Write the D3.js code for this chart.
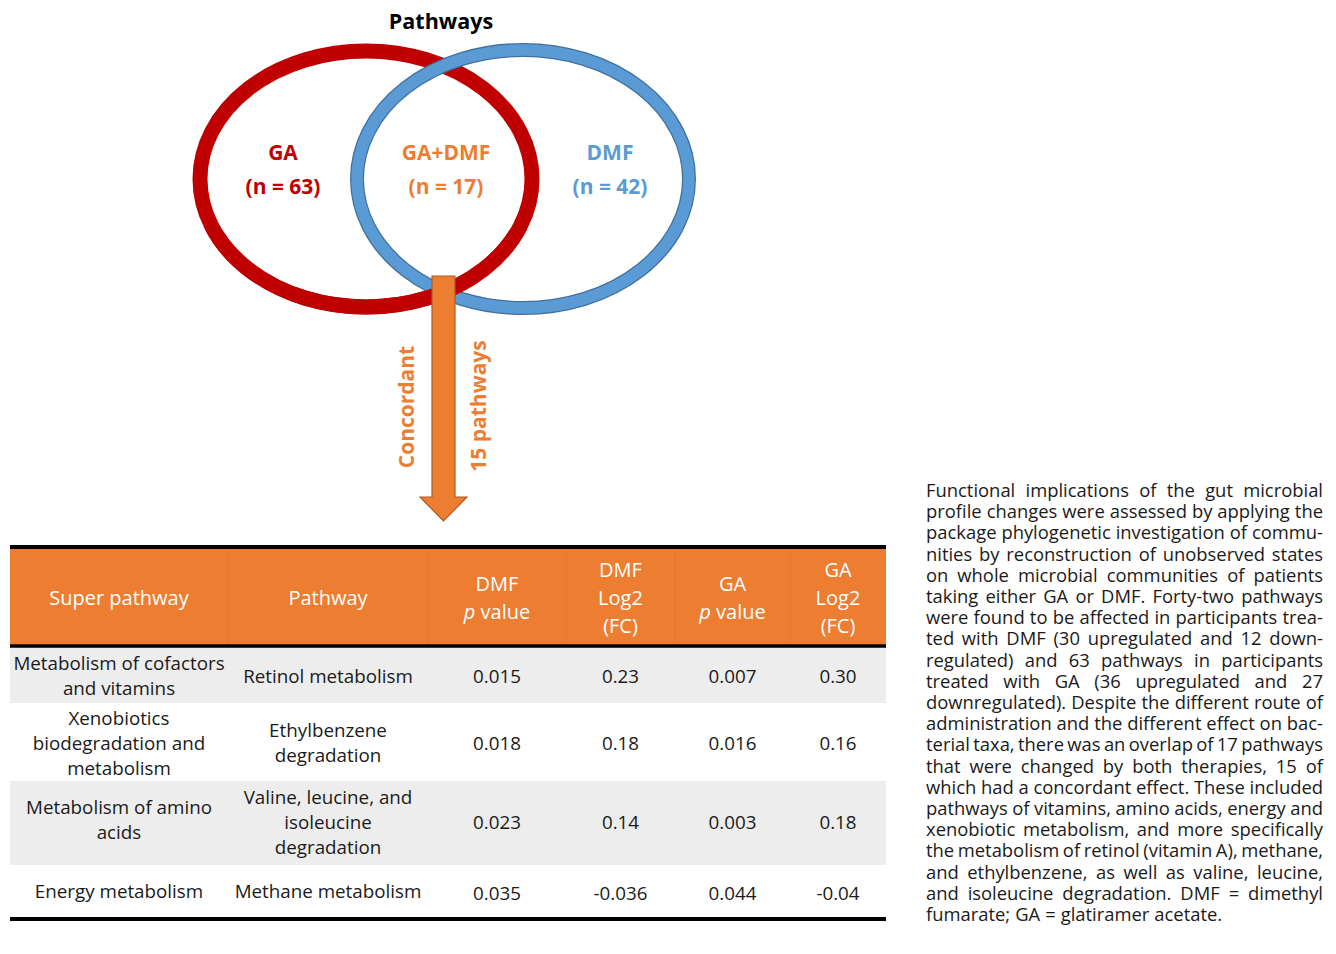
<!DOCTYPE html>
<html>
<head>
<meta charset="utf-8">
<script src="https://cdn.jsdelivr.net/npm/d3@7"></script>
<style>
  body { margin: 0; background: #fff; }
  svg { font-family: "Open Sans", sans-serif; }
</style>
</head>
<body>
<div id="graph"></div>
<script>
// venn sets
var vennNames = ["GA", "GA+DMF", "DMF"];
var vennCounts = [63, 17, 42];
var concordantCount = 15;

// table
var headers = [["Super pathway"], ["Pathway"], ["DMF", "p value"], ["DMF", "Log2", "(FC)"], ["GA", "p value"], ["GA", "Log2", "(FC)"]];
var superPathways = [
  ["Metabolism of cofactors", "and vitamins"],
  ["Xenobiotics", "biodegradation and", "metabolism"],
  ["Metabolism of amino", "acids"],
  ["Energy metabolism"]
];
var pathways = [
  ["Retinol metabolism"],
  ["Ethylbenzene", "degradation"],
  ["Valine, leucine, and", "isoleucine", "degradation"],
  ["Methane metabolism"]
];
var dmfP = ["0.015", "0.018", "0.023", "0.035"];
var dmfLog2 = ["0.23", "0.18", "0.14", "-0.036"];
var gaP = ["0.007", "0.016", "0.003", "0.044"];
var gaLog2 = ["0.30", "0.16", "0.18", "-0.04"];

var captionLines = [
  "Functional implications of the gut microbial",
  "profile changes were assessed by applying the",
  "package phylogenetic investigation of commu-",
  "nities by reconstruction of unobserved states",
  "on whole microbial communities of patients",
  "taking either GA or DMF. Forty-two pathways",
  "were found to be affected in participants trea-",
  "ted with DMF (30 upregulated and 12 down-",
  "regulated) and 63 pathways in participants",
  "treated with GA (36 upregulated and 27",
  "downregulated). Despite the different route of",
  "administration and the different effect on bac-",
  "terial taxa, there was an overlap of 17 pathways",
  "that were changed by both therapies, 15 of",
  "which had a concordant effect. These included",
  "pathways of vitamins, amino acids, energy and",
  "xenobiotic metabolism, and more specifically",
  "the metabolism of retinol (vitamin A), methane,",
  "and ethylbenzene, as well as valine, leucine,",
  "and isoleucine degradation. DMF = dimethyl",
  "fumarate; GA = glatiramer acetate."
];

var red = "#c00000", blue = "#5b9bd5", orange = "#ed7d31";

var svg = d3.select("#graph")
  .append("svg")
    .attr("width", 1336)
    .attr("height", 954);

// title
svg.append("text")
  .attr("x", 441).attr("y", 29)
  .attr("text-anchor", "middle")
  .style("font-weight", "bold").style("font-size", "21.5px")
  .text("Pathways");

// venn ellipses
var venn = svg.append("g");
var ellipseRed = { cx: 366, cy: 179, rx: 166, ry: 128 };
var ellipseBlue = { cx: 523, cy: 179, rx: 166, ry: 129 };

function drawRed(g) {
  g.append("ellipse")
    .attr("cx", ellipseRed.cx).attr("cy", ellipseRed.cy)
    .attr("rx", ellipseRed.rx).attr("ry", ellipseRed.ry)
    .style("fill", "none").style("stroke", red).style("stroke-width", 15);
}
drawRed(venn);
// blue ring with darker outline
venn.append("ellipse")
  .attr("cx", ellipseBlue.cx).attr("cy", ellipseBlue.cy)
  .attr("rx", ellipseBlue.rx).attr("ry", ellipseBlue.ry)
  .style("fill", "none").style("stroke", "#41719c").style("stroke-width", 14);
venn.append("ellipse")
  .attr("cx", ellipseBlue.cx).attr("cy", ellipseBlue.cy)
  .attr("rx", ellipseBlue.rx).attr("ry", ellipseBlue.ry)
  .style("fill", "none").style("stroke", blue).style("stroke-width", 11.5);

// red goes over blue at the bottom crossing
svg.append("clipPath").attr("id", "bottomClip")
  .append("rect").attr("x", 0).attr("y", 230).attr("width", 900).attr("height", 120);
drawRed(venn.append("g").attr("clip-path", "url(#bottomClip)"));

// venn labels
var labelX = [283, 446, 610];
var labelColor = [red, orange, blue];
vennNames.forEach(function(n, i) {
  var t = venn.append("text")
    .attr("x", labelX[i]).attr("text-anchor", "middle")
    .style("font-weight", "bold").style("font-size", "21px")
    .style("fill", labelColor[i]);
  t.append("tspan").attr("x", labelX[i]).attr("y", 160).text(n);
  t.append("tspan").attr("x", labelX[i]).attr("y", 194).text("(n = " + vennCounts[i] + ")");
});

// arrow
var ax = 443.5;
svg.append("path")
  .attr("d", d3.line()([[ax - 11.5, 276], [ax + 11.5, 276], [ax + 11.5, 497], [ax + 23.5, 497],
                        [ax, 521], [ax - 23.5, 497], [ax - 11.5, 497]]) + "Z")
  .style("fill", orange).style("stroke", "#ae5a21").style("stroke-width", 1.2);

svg.append("text")
  .attr("transform", "translate(414,407) rotate(-90)")
  .attr("text-anchor", "middle")
  .style("font-weight", "bold").style("font-size", "21px").style("fill", orange)
  .text("Concordant");
svg.append("text")
  .attr("transform", "translate(486,406) rotate(-90)")
  .attr("text-anchor", "middle")
  .style("font-weight", "bold").style("font-size", "21px").style("fill", orange)
  .text(concordantCount + " pathways");

// table
var colEdges = [10, 228, 428, 566, 675, 790, 886];
var colCenter = function(i) { return (colEdges[i] + colEdges[i + 1]) / 2; };
var tableLeft = colEdges[0], tableRight = colEdges[colEdges.length - 1];
var headTop = 549, headBottom = 645;
var rowHeights = [56, 78, 84, 53];
var rowTops = [headBottom + 2];
rowHeights.forEach(function(h, i) { rowTops.push(rowTops[i] + h); });

var table = svg.append("g");
table.append("rect")
  .attr("x", tableLeft).attr("y", headTop)
  .attr("width", tableRight - tableLeft).attr("height", headBottom - headTop)
  .style("fill", orange);
colEdges.slice(1, -1).forEach(function(x) {
  table.append("line")
    .attr("x1", x).attr("x2", x).attr("y1", headTop).attr("y2", headBottom)
    .style("stroke", "#e57629").style("stroke-width", 1);
});

table.selectAll("rect.row")
  .data(rowHeights)
  .enter().append("rect")
    .attr("class", "row")
    .attr("x", tableLeft).attr("y", function(d, i) { return rowTops[i]; })
    .attr("width", tableRight - tableLeft).attr("height", function(d) { return d; })
    .style("fill", function(d, i) { return i % 2 === 0 ? "#ededed" : "#fff"; });

[547, 646, rowTops[rowTops.length - 1] + 1].forEach(function(y, i) {
  table.append("line")
    .attr("x1", tableLeft).attr("x2", tableRight).attr("y1", y).attr("y2", y)
    .style("stroke", "#000").style("stroke-width", i === 1 ? 3.5 : 4);
});

function multiline(g, x, cy, lines, lh, size, color) {
  var t = g.append("text")
    .attr("text-anchor", "middle")
    .style("font-size", size + "px").style("fill", color);
  var y0 = cy - (lines.length - 1) * lh / 2 + size * 0.36;
  lines.forEach(function(l, k) {
    var ts = t.append("tspan").attr("x", x).attr("y", y0 + k * lh);
    if (l === "p value") {
      ts.append("tspan").style("font-style", "italic").text("p");
      ts.append("tspan").text(" value");
    } else ts.text(l);
  });
}

headers.forEach(function(h, i) {
  multiline(table, colCenter(i), 598, h, 28, 20, "#fff");
});

var columns = [superPathways, pathways, dmfP, dmfLog2, gaP, gaLog2];
var rowCenter = [676, 743, 822, 891];
columns.forEach(function(col, c) {
  col.forEach(function(v, r) {
    var lines = Array.isArray(v) ? v : [v];
    var cy = rowCenter[r] + (c >= 2 && r === 3 ? 2 : 0);
    if (c === 0 && r === 2) cy = 820;
    multiline(table, colCenter(c), cy, lines, 25, 18.8, "#1a1a1a");
  });
});

// caption, justified
var capLeft = 926, capRight = 1323, capTop = 492, capLh = 21.2;
var cap = svg.append("g").style("font-size", "18.4px").style("fill", "#1a1a1a");
captionLines.forEach(function(line, i) {
  var y = capTop + i * capLh + 5;
  var words = line.split(" ");
  var last = i === captionLines.length - 1;
  var t = cap.append("text").attr("y", y);
  var spans = words.map(function(w) { return t.append("tspan").text(w); });
  var widths = spans.map(function(s) { return s.node().getComputedTextLength(); });
  var total = d3.sum(widths);
  var minSpace = 3.2;
  var space = last ? 5 : (capRight - capLeft - total) / (words.length - 1);
  var squeeze = 1;
  if (space < minSpace) {
    squeeze = (capRight - capLeft) / (total + minSpace * (words.length - 1));
    space = minSpace;
  }
  var x = 0;
  spans.forEach(function(s, k) {
    s.attr("x", x);
    x += widths[k] + space;
  });
  t.attr("transform", "translate(" + capLeft + ",0) scale(" + squeeze + ",1)");
});
</script>
</body>
</html>
